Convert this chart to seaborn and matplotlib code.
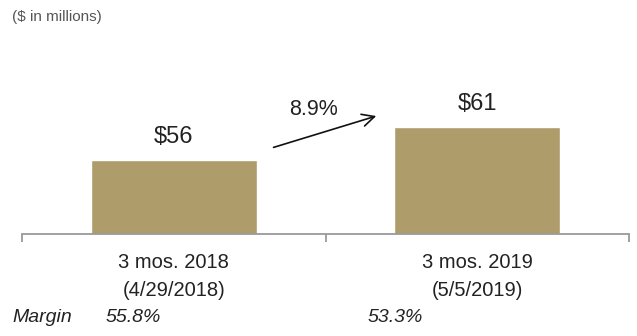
import matplotlib
matplotlib.use("Agg")
import matplotlib.pyplot as plt
import seaborn as sns
import pandas as pd

categories = ["3 mos. 2018\n(4/29/2018)", "3 mos. 2019\n(5/5/2019)"]
values = [56, 61]
value_labels = ["$56", "$61"]
margins = ["55.8%", "53.3%"]
growth_label = "8.9%"
unit_label = "($ in millions)"

sns.set_theme(style="white")
plt.rcParams["font.family"] = ["Liberation Sans", "DejaVu Sans"]

W, H = 637, 336
fig = plt.figure(figsize=(W / 100, H / 100), dpi=100)
ax = fig.add_axes([22 / W, (H - 234) / H, 607 / W, 194 / H])

df = pd.DataFrame({"cat": categories, "val": values})
sns.barplot(data=df, x="cat", y="val", color="#AE9C6B", saturation=1,
            width=0.547, ax=ax)

ax.set_xlim(-0.5, 1.5)
ax.set_ylim(44.8, 74.2)
for s in ["top", "left", "right"]:
    ax.spines[s].set_visible(False)
ax.spines["bottom"].set_color("#9a9a9a")
ax.spines["bottom"].set_linewidth(1.3)
ax.set_yticks([])
ax.set_xlabel("")
ax.set_ylabel("")
ax.set_xticks([0, 1])
ax.set_xticklabels(categories, fontsize=14.5, color="#222222", linespacing=1.55)
ax.tick_params(axis="x", which="major", length=0, pad=14)
ax.set_xticks([-0.5, 0.5, 1.5], minor=True)
ax.tick_params(axis="x", which="minor", length=6, width=1.3, color="#9a9a9a",
               direction="out", bottom=True)

for i, (v, lab) in enumerate(zip(values, value_labels)):
    ax.annotate(lab, (i, v), xytext=(0, 9), textcoords="offset points",
                ha="center", va="bottom", fontsize=17, color="#222222")

# growth arrow
ax.annotate("", xy=(0.676, 62.8), xytext=(0.32, 57.8),
            arrowprops=dict(arrowstyle="->", color="#111111", lw=1.2,
                            mutation_scale=22))
ax.text(0.46, 63.6, growth_label, ha="center", va="center", fontsize=15.5,
        color="#222222")

fig.text(12 / W, 1 - 17 / H, unit_label, ha="left", va="center",
         fontsize=11, color="#555555")
fig.text(12 / W, 1 - 318 / H, "Margin", ha="left", va="center",
         fontsize=14, style="italic", color="#222222")
fig.text(133 / W, 1 - 318 / H, margins[0], ha="center", va="center",
         fontsize=14, style="italic", color="#222222")
fig.text(395 / W, 1 - 318 / H, margins[1], ha="center", va="center",
         fontsize=14, style="italic", color="#222222")

fig.savefig("out.png", dpi=100)
